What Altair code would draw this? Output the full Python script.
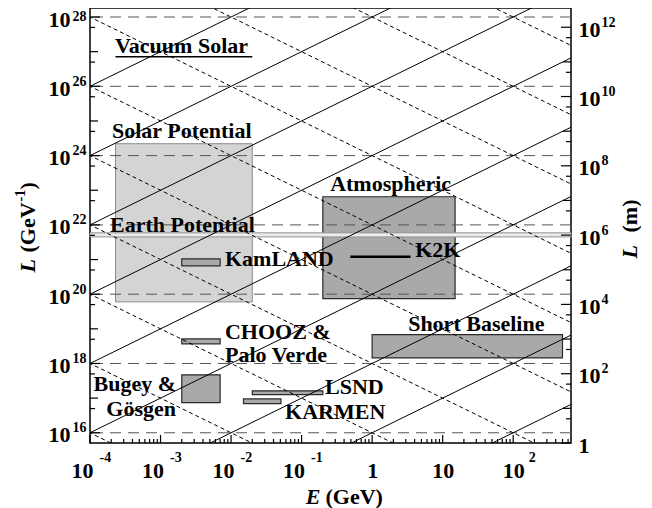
import altair as alt
import pandas as pd

FONT = "Liberation Serif"
W, H = 481, 435

# ---------------- axis ranges ----------------
E_MIN, E_MAX = 1e-4, 660.0            # E (GeV)
GEV_INV_PER_M = 5.0677e15              # 1 m expressed in GeV^-1
L_MIN, L_MAX = GEV_INV_PER_M, 1.82e28  # L (GeV^-1)

# ---------------- boxes (E in GeV, L in GeV^-1) ----------------
light_name = ["Solar Potential"]
light_e1 = [2.3e-4]
light_e2 = [0.020]
light_l1 = [6.0e19]
light_l2 = [2.2e24]

dark_name = ["Atmospheric", "Short Baseline", "KamLAND", "CHOOZ & Palo Verde",
             "Bugey & Gosgen", "LSND", "KARMEN"]
dark_e1 = [0.20, 1.0, 2.0e-3, 2.0e-3, 2.0e-3, 0.020, 0.015]
dark_e2 = [15.0, 500.0, 7.0e-3, 7.0e-3, 7.0e-3, 0.20, 0.051]
dark_l1 = [7.4e19, 1.45e18, 6.6e20, 3.7e18, 7.4e16, 1.26e17, 6.9e16]
dark_l2 = [6.5e22, 6.8e18, 1.05e21, 5.1e18, 4.7e17, 1.62e17, 9.5e16]

earth_l1 = [4.5e21]
earth_l2 = [5.9e21]

k2k_e1, k2k_e2, k2k_l = [0.49], [3.5], [1.2e21]
vac_e1, vac_e2, vac_l = [2.3e-4], [0.020], [7.1e26]

# ---------------- reference lines ----------------
solid_k = [14, 16, 18, 20, 22, 24, 26, 28, 30]          # L = E * 10^k
dashed_n = [12, 14, 16, 18, 20, 22, 24, 26, 28, 30]     # L = 10^n / E
h_dashed = [1e16, 1e18, 1e20, 1e22, 1e24, 1e26, 1e28]   # L = const

# ---------------- labels ----------------
lab_text = ["Vacuum Solar", "Solar Potential", "Earth Potential", "Atmospheric",
            "KamLAND", "K2K", "CHOOZ &", "Palo Verde", "Short Baseline",
            "LSND", "KARMEN"]
lab_e = [2.26e-4, 2.05e-4, 1.92e-4, 0.254, 8.2e-3, 4.07, 8.2e-3, 8.2e-3, 3.24,
         0.215, 0.0583]
lab_l = [9.4e26, 3.3e24, 6.3e21, 9.2e22, 6.3e20, 1.15e21, 5.0e18, 1.08e18,
         8.5e18, 1.29e17, 2.45e16]
lab_r_text = ["Bugey &", "Gösgen"]
lab_r_e = [1.66e-3, 1.66e-3]
lab_r_l = [1.57e17, 3.0e16]

# ---------------- tick values ----------------
x_major = [1e-4, 1e-3, 1e-2, 1e-1, 1, 10, 100]
x_minor = [m * d for d in x_major for m in range(2, 10) if m * d <= E_MAX]
y_major = [1e16, 1e18, 1e20, 1e22, 1e24, 1e26, 1e28]
y_odd = [1e17, 1e19, 1e21, 1e23, 1e25, 1e27]
y_half = [5 * 10.0 ** p for p in range(16, 28)]
m_major = [1, 1e2, 1e4, 1e6, 1e8, 1e10, 1e12]
m_odd = [1e1, 1e3, 1e5, 1e7, 1e9, 1e11]
m_half = [5 * 10.0 ** p for p in range(0, 12)]


def xs():
    return alt.Scale(type="log", domain=[E_MIN, E_MAX], nice=False)


def ys():
    return alt.Scale(type="log", domain=[L_MIN, L_MAX], nice=False)


def yms():
    return alt.Scale(type="log", domain=[L_MIN / GEV_INV_PER_M, L_MAX / GEV_INV_PER_M], nice=False)


def axis(orient, **kw):
    base = dict(orient=orient, grid=False, domain=False, ticks=False, tickSize=0,
                labelFont=FONT, labelFontWeight="bold", labelColor="black",
                labelFlush=False, labelOverlap=False,
                titleFont=FONT, titleFontWeight="bold", titleFontSize=22,
                titleColor="black")
    base.update(kw)
    return alt.Axis(**base)


EXP = "'' + round(log(datum.value) / LN10)"

ax_x_base = axis("bottom", values=x_major,
                 labelExpr="datum.value == 1 ? '1' : '10'",
                 labelFontSize=22, labelAlign="center", labelBaseline="middle",
                 labelPadding=27,
                 labelOffset={"condition": {"test": "datum.value < 0.5", "value": -8}, "value": 0},
                 title="(GeV)", titleX=235, titleY=53, titleAlign="left",
                 titleBaseline="middle")
ax_x_exp = axis("bottom", values=x_major,
                labelExpr="datum.value == 1 || datum.value == 10 ? '' : " + EXP,
                labelFontSize=14, labelAlign="left", labelBaseline="middle",
                labelPadding=14,
                labelOffset={"condition": {"test": "datum.value > 50", "value": 15}, "value": 9},
                title="E", titleFontStyle="italic", titleX=230, titleY=53,
                titleAlign="right", titleBaseline="middle")
ax_y_base = axis("left", values=y_major, labelExpr="'10'", labelFontSize=22,
                 labelAlign="right", labelBaseline="middle", labelPadding=20, labelOffset=2,
                 title="L", titleFontStyle="italic", titleAngle=270, titleX=-63,
                 titleY=264, titleAlign="left", titleBaseline="middle")
ax_y_exp = axis("left", values=y_major, labelExpr=EXP, labelFontSize=14,
                labelAlign="left", labelBaseline="middle", labelPadding=18,
                labelOffset={"condition": {"test": "datum.value > 5e27", "value": -1}, "value": -5},
                title="(GeV", titleAngle=270, titleX=-63, titleY=244,
                titleAlign="left", titleBaseline="middle")
ax_y_sup = axis("left", labels=False, title="-1", titleFontSize=14, titleAngle=270,
                titleX=-70, titleY=193, titleAlign="left", titleBaseline="middle")
ax_y_close = axis("left", labels=False, title=")", titleAngle=270, titleX=-63,
                  titleY=181, titleAlign="left", titleBaseline="middle")
ax_m_base = axis("right", values=m_major,
                 labelExpr="datum.value < 2 ? '1' : '10'", labelFontSize=22,
                 labelAlign="left", labelBaseline="middle", labelPadding=7, labelOffset=2,
                 title="L", titleFontStyle="italic", titleAngle=270, titleX=58,
                 titleY=250, titleAlign="left", titleBaseline="middle")
ax_m_exp = axis("right", values=m_major,
                labelExpr="datum.value < 2 ? '' : " + EXP, labelFontSize=14,
                labelAlign="left", labelBaseline="middle", labelPadding=30, labelOffset=-5,
                title="(m)", titleAngle=270, titleX=58, titleY=224,
                titleAlign="left", titleBaseline="middle")

# ---------------- data frames ----------------
df_light = pd.DataFrame({"name": light_name, "e1": light_e1, "e2": light_e2,
                         "l1": light_l1, "l2": light_l2})
df_dark = pd.DataFrame({"name": dark_name, "e1": dark_e1, "e2": dark_e2,
                        "l1": dark_l1, "l2": dark_l2})
df_earth = pd.DataFrame({"e1": [E_MIN], "e2": [E_MAX], "l1": earth_l1, "l2": earth_l2})
df_k2k = pd.DataFrame({"e1": k2k_e1, "e2": k2k_e2, "l": k2k_l})
df_vac = pd.DataFrame({"e1": vac_e1, "e2": vac_e2, "l": vac_l})
df_h = pd.DataFrame({"l": h_dashed})

rows = []
for k in solid_k:
    for e in (1e-5, 1e4):
        rows.append({"k": k, "e": e, "l": e * 10.0 ** k})
df_solid = pd.DataFrame(rows)
rows = []
for n in dashed_n:
    for e in (1e-5, 1e4):
        rows.append({"k": n, "e": e, "l": 10.0 ** n / e})
df_dashed = pd.DataFrame(rows)

df_lab = pd.DataFrame({"t": lab_text, "e": lab_e, "l": lab_l})
df_lab_r = pd.DataFrame({"t": lab_r_text, "e": lab_r_e, "l": lab_r_l})

# ---------------- layers ----------------
light = alt.Chart(df_light).mark_rect(fill="#d4d4d4", stroke="#8a8a8a", strokeWidth=1).encode(
    x=alt.X("e1:Q", scale=xs(), axis=ax_x_base), x2="e2:Q",
    y=alt.Y("l1:Q", scale=ys(), axis=ax_y_base), y2="l2:Q")

dark = alt.Chart(df_dark).mark_rect(fill="#a9a9a9", stroke="#2a2a2a", strokeWidth=1.2).encode(
    x=alt.X("e1:Q", scale=xs(), axis=None), x2="e2:Q",
    y=alt.Y("l1:Q", scale=ys(), axis=None), y2="l2:Q")

earth = alt.Chart(df_earth).mark_rect(fill="#ececec", stroke="#909090", strokeWidth=1).encode(
    x=alt.X("e1:Q", scale=xs(), axis=None), x2="e2:Q",
    y=alt.Y("l1:Q", scale=ys(), axis=None), y2="l2:Q")

hlines = alt.Chart(df_h).mark_rule(color="#555555", strokeWidth=1, strokeDash=[11, 7]).encode(
    y=alt.Y("l:Q", scale=ys(), axis=ax_y_exp))

solid = alt.Chart(df_solid).mark_line(color="black", strokeWidth=1, clip=True).encode(
    x=alt.X("e:Q", scale=xs(), axis=ax_x_exp),
    y=alt.Y("l:Q", scale=ys(), axis=ax_y_sup), detail="k:N")

dashed = alt.Chart(df_dashed).mark_line(color="black", strokeWidth=1, strokeDash=[4, 3],
                                        clip=True).encode(
    x=alt.X("e:Q", scale=xs(), axis=None),
    y=alt.Y("l:Q", scale=ys(), axis=ax_y_close), detail="k:N")

k2k = alt.Chart(df_k2k).mark_rule(color="black", strokeWidth=2.5).encode(
    x=alt.X("e1:Q", scale=xs(), axis=None), x2="e2:Q",
    y=alt.Y("l:Q", scale=ys(), axis=None))

vac = alt.Chart(df_vac).mark_rule(color="black", strokeWidth=1.6).encode(
    x=alt.X("e1:Q", scale=xs(), axis=None), x2="e2:Q",
    y=alt.Y("l:Q", scale=ys(), axis=None))

text_l = alt.Chart(df_lab).mark_text(align="left", baseline="alphabetic", font=FONT,
                                     fontSize=22, fontWeight="bold", color="black").encode(
    x=alt.X("e:Q", scale=xs(), axis=None),
    y=alt.Y("l:Q", scale=ys(), axis=None), text="t:N")

text_r = alt.Chart(df_lab_r).mark_text(align="right", baseline="alphabetic", font=FONT,
                                       fontSize=22, fontWeight="bold", color="black").encode(
    x=alt.X("e:Q", scale=xs(), axis=None),
    y=alt.Y("l:Q", scale=ys(), axis=None), text="t:N")


def left_ticks(vals, length):
    return alt.Chart(pd.DataFrame({"v": vals})).mark_rule(color="black", strokeWidth=1.2).encode(
        y=alt.Y("v:Q", scale=ys(), axis=None), x=alt.value(0), x2=alt.value(length))


def right_ticks(vals, length, ax=None):
    return alt.Chart(pd.DataFrame({"v": vals})).mark_rule(color="black", strokeWidth=1.2).encode(
        y=alt.Y("v:Q", scale=yms(), axis=ax), x=alt.value(W - length), x2=alt.value(W))


def bottom_ticks(vals, length):
    return alt.Chart(pd.DataFrame({"v": vals})).mark_rule(color="black", strokeWidth=1.2).encode(
        x=alt.X("v:Q", scale=xs(), axis=None), y=alt.value(H - length), y2=alt.value(H))


layers = [
    light, dark, earth, hlines, solid, dashed, k2k, vac, text_l, text_r,
    left_ticks(y_major, 10), left_ticks(y_odd, 8), left_ticks(y_half, 5),
    right_ticks(m_major, 10, ax_m_base), right_ticks(m_odd, 8, ax_m_exp),
    right_ticks(m_half, 5),
    bottom_ticks(x_major, 8), bottom_ticks(x_minor, 4),
]

chart = alt.layer(*layers).resolve_scale(x="independent", y="independent").properties(
    width=W, height=H,
    padding={"left": 82, "top": 0, "right": 70, "bottom": 65},
    autosize=alt.AutoSizeParams(type="none"),
    background="white",
).configure_view(stroke="black", strokeWidth=1.5)

chart.save("out.html", embed_options={"renderer": "svg", "actions": False})
